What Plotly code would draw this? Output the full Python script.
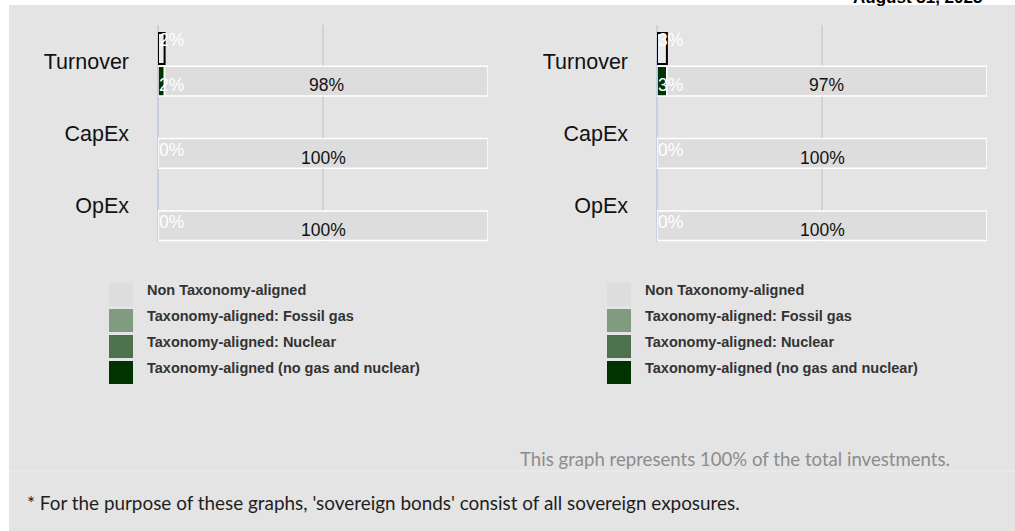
import plotly.graph_objects as go

# ---------------- data ----------------
categories = ["Turnover", "CapEx", "OpEx"]

series_names = [
    "Taxonomy-aligned (no gas and nuclear)",
    "Taxonomy-aligned: Nuclear",
    "Taxonomy-aligned: Fossil gas",
    "Non Taxonomy-aligned",
]
series_colors = ["#003300", "#4d714d", "#809b80", "#dddddd"]

# left chart
left_upper = [2, 0, 0]
left_aligned = [2, 0, 0]
left_nuclear = [0, 0, 0]
left_gas = [0, 0, 0]
left_non = [98, 100, 100]

# right chart
right_upper = [3, 0, 0]
right_aligned = [3, 0, 0]
right_nuclear = [0, 0, 0]
right_gas = [0, 0, 0]
right_non = [97, 100, 100]

date_text = "August 31, 2023"
note_text = "This graph represents 100% of the total investments."
footnote_text = "* For the purpose of these graphs, 'sovereign bonds' consist of all sovereign exposures."

# ---------------- layout helpers ----------------
W, H = 1015, 531


def px(x):
    return x / W


def py(y):
    return 1 - y / H


fig = go.Figure()
shapes = []
annotations = []

panels = [
    ("x", "y", left_upper, [left_aligned, left_nuclear, left_gas, left_non], 109),
    ("x2", "y2", right_upper, [right_aligned, right_nuclear, right_gas, right_non], 607),
]

lab_font = dict(family="Arial", size=17.5)

for xa, ya, upper, stack, leg_x in panels:
    # upper outlined bar
    fig.add_trace(go.Bar(
        y=categories, x=[v if v else None for v in upper], orientation="h",
        xaxis=xa, yaxis=ya, offset=-0.39, width=0.43,
        marker=dict(color="#ececec", line=dict(color="#000000", width=2)),
        showlegend=False, hoverinfo="skip",
    ))
    for i, v in enumerate(upper):
        if v:
            annotations.append(dict(
                xref=xa, yref=ya, x=0, y=categories[i], xanchor="left", yanchor="middle",
                text=f"{v}%", showarrow=False, yshift=21, xshift=-1,
                font=dict(lab_font, color="#ffffff"),
            ))
    # lower stacked bar
    base = [0, 0, 0]
    for k, vals in enumerate(stack):
        fig.add_trace(go.Bar(
            y=categories, x=vals, base=list(base), orientation="h",
            xaxis=xa, yaxis=ya, offset=0.07, width=0.41,
            marker=dict(color=series_colors[k], line=dict(color="#ffffff", width=1.5)),
            name=series_names[k], showlegend=False, hoverinfo="skip",
        ))
        for i, v in enumerate(vals):
            if k == 0:
                annotations.append(dict(
                    xref=xa, yref=ya, x=0, y=categories[i], xanchor="left", yanchor="middle",
                    text=f"{v}%", showarrow=False, yshift=-24 if v else -16, xshift=-1,
                    font=dict(lab_font, color="#ffffff"),
                ))
            elif k == len(stack) - 1 and v:
                annotations.append(dict(
                    xref=xa, yref=ya, x=base[i] + v / 2, y=categories[i],
                    xanchor="center", yanchor="middle",
                    text=f"{v}%", showarrow=False, yshift=-24,
                    font=dict(lab_font, color="#111111"),
                ))
        base = [b + v for b, v in zip(base, vals)]

    # custom legend
    order = [3, 2, 1, 0]
    for j, k in enumerate(order):
        top = 283 + 26 * j
        shapes.append(dict(
            type="rect", xref="paper", yref="paper",
            x0=px(leg_x), x1=px(leg_x + 24), y0=py(top + 23), y1=py(top),
            fillcolor=series_colors[k], line=dict(width=0), layer="below",
        ))
        annotations.append(dict(
            xref="paper", yref="paper", x=px(leg_x + 36), y=py(top + 7),
            xanchor="left", yanchor="middle", showarrow=False,
            text=f"<b>{series_names[k]}</b>",
            font=dict(family="Arial", size=14.5, color="#333333"),
        ))

# background
shapes.insert(0, dict(
    type="rect", xref="paper", yref="paper", x0=px(9), x1=1, y0=0, y1=py(5),
    fillcolor="#e4e4e4", line=dict(width=0), layer="below",
))
shapes.insert(1, dict(
    type="line", xref="paper", yref="paper", x0=px(9), x1=1, y0=py(471), y1=py(471),
    line=dict(color="#ededed", width=1), layer="below",
))

annotations.append(dict(
    xref="paper", yref="paper", x=px(984), y=1, xanchor="right", yanchor="bottom",
    yshift=-9, showarrow=False, text=f"<b>{date_text}</b>",
    font=dict(family="Arial", size=17, color="#000000"),
))
annotations.append(dict(
    xref="paper", yref="paper", x=px(952), y=py(459), xanchor="right", yanchor="middle",
    showarrow=False, text=note_text,
    font=dict(family="Lato", size=18.6, color="#8c8c8c"),
))
annotations.append(dict(
    xref="paper", yref="paper", x=px(25), y=py(502), xanchor="left", yanchor="middle",
    showarrow=False, text=footnote_text,
    font=dict(family="Lato", size=18.9, color="#1e1e1e"),
))

xaxis_common = dict(
    range=[0, 100], tick0=0, dtick=50, showticklabels=False, ticks="",
    showgrid=True, gridcolor="#d2d2d2", gridwidth=2,
    zeroline=True, zerolinecolor="#c6cfe4", zerolinewidth=2,
    showline=False, fixedrange=True,
)
yaxis_common = dict(
    type="category", categoryorder="array", categoryarray=categories,
    range=[2.5, -0.5], domain=[py(242), py(25)], showgrid=False, zeroline=False,
    showline=False, ticks="", ticklabelstandoff=28,
    tickfont=dict(family="Arial", size=21.5, color="#111111"), fixedrange=True,
)

fig.update_layout(
    width=W, height=H,
    margin=dict(l=0, r=0, t=0, b=0),
    paper_bgcolor="#ffffff", plot_bgcolor="rgba(0,0,0,0)",
    barmode="overlay", showlegend=False,
    xaxis=dict(xaxis_common, domain=[px(158), px(488)], anchor="y"),
    xaxis2=dict(xaxis_common, domain=[px(657), px(987)], anchor="y2"),
    yaxis=dict(yaxis_common, anchor="x"),
    yaxis2=dict(yaxis_common, anchor="x2"),
    shapes=shapes, annotations=annotations,
)

fig.write_html(
    "out.html",
    config={"displayModeBar": False},
    post_script="document.body.style.margin='0';document.body.style.overflow='hidden';",
)
